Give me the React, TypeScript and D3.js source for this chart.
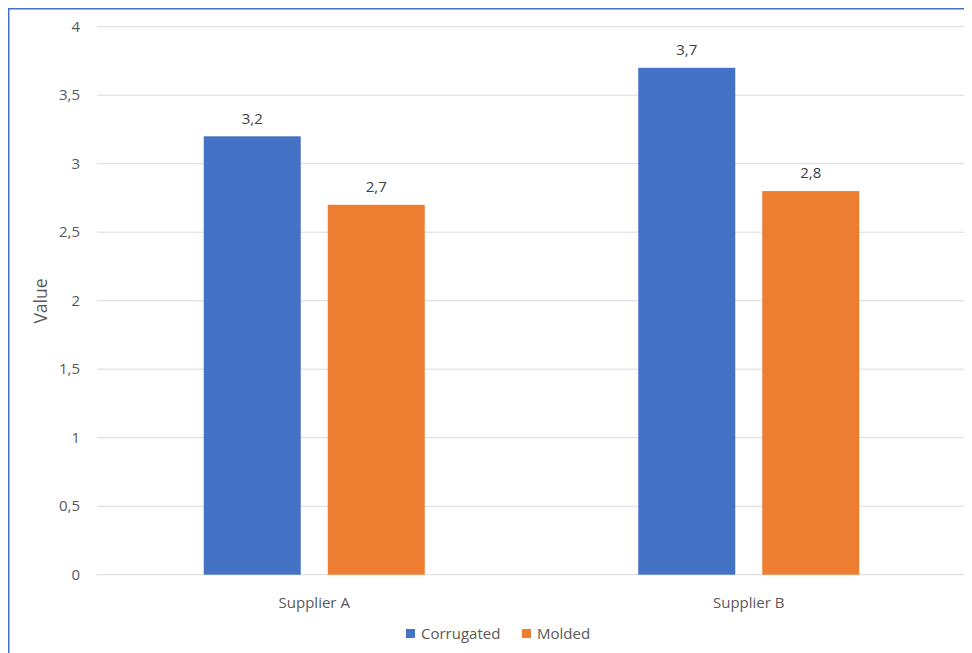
import React from "react";
import * as d3 from "d3";

const categories = ["Supplier A", "Supplier B"];
const seriesNames = ["Corrugated", "Molded"];
const corrugated = [3.2, 3.7];
const molded = [2.7, 2.8];
const yTicks = [0, 0.5, 1, 1.5, 2, 2.5, 3, 3.5, 4];
const colors = ["#4472C4", "#ED7D31"];

const W = 964;
const H = 645;
const OX = 8; // page offset
const fmt = (v: number) => String(v).replace(".", ",");

export default function App() {
  const left = 97 - OX;
  const right = 966 - OX;
  const top = 26.7 - OX;
  const bottom = 574.7 - OX;
  const x = d3.scaleBand<string>().domain(categories).range([left, right]);
  const y = d3.scaleLinear().domain([0, 4]).range([bottom, top]);
  const barW = 97;
  const gap = 27;
  const series = [corrugated, molded];
  const font = "'Segoe UI', 'Open Sans', 'Noto Sans', sans-serif";
  const textColor = "#595959";
  const fs = 15;

  return (
    <svg width={W} height={H} style={{ display: "block" }} fontFamily={font}>
      <rect x={0} y={0} width={W} height={H} fill="#fff" />
      <line x1={0.75} x2={0.75} y1={0} y2={H} stroke="#4472C4" strokeWidth={1.5} />
      <line x1={0} x2={W} y1={0.75} y2={0.75} stroke="#4472C4" strokeWidth={1.5} />
      {yTicks.map((t) => (
        <g key={t}>
          <line x1={left} x2={right} y1={y(t)} y2={y(t)} stroke="#D9D9D9" strokeWidth={1} />
          <text x={left - 17} y={y(t)} dy="0.35em" textAnchor="end" fontSize={fs} fill={textColor}>
            {fmt(t)}
          </text>
        </g>
      ))}
      {categories.map((c, i) => {
        const cx = (x(c) as number) + x.bandwidth() / 2;
        const total = barW * 2 + gap;
        return (
          <g key={c}>
            {series.map((s, j) => {
              const bx = cx - total / 2 + j * (barW + gap);
              return (
                <g key={j}>
                  <rect x={bx} y={y(s[i])} width={barW} height={bottom - y(s[i])} fill={colors[j]} />
                  <text x={bx + barW / 2} y={y(s[i]) - 18} dy="0.35em" textAnchor="middle" fontSize={fs} fill="#404040">
                    {fmt(s[i])}
                  </text>
                </g>
              );
            })}
            <text x={cx} y={603 - OX} dy="0.35em" textAnchor="middle" fontSize={fs} fill={textColor}>
              {c}
            </text>
          </g>
        );
      })}
      <text
        transform={`translate(${41 - OX},${301 - OX}) rotate(-90)`}
        textAnchor="middle"
        dy="0.35em"
        fontSize={17.5}
        fill={textColor}
      >
        Value
      </text>
      {seriesNames.map((n, j) => {
        const lx = [406, 522][j] - OX;
        return (
          <g key={n}>
            <rect x={lx} y={629 - OX} width={9} height={9} fill={colors[j]} />
            <text x={lx + 15} y={633.5 - OX} dy="0.35em" fontSize={fs} fill={textColor}>
              {n}
            </text>
          </g>
        );
      })}
    </svg>
  );
}
